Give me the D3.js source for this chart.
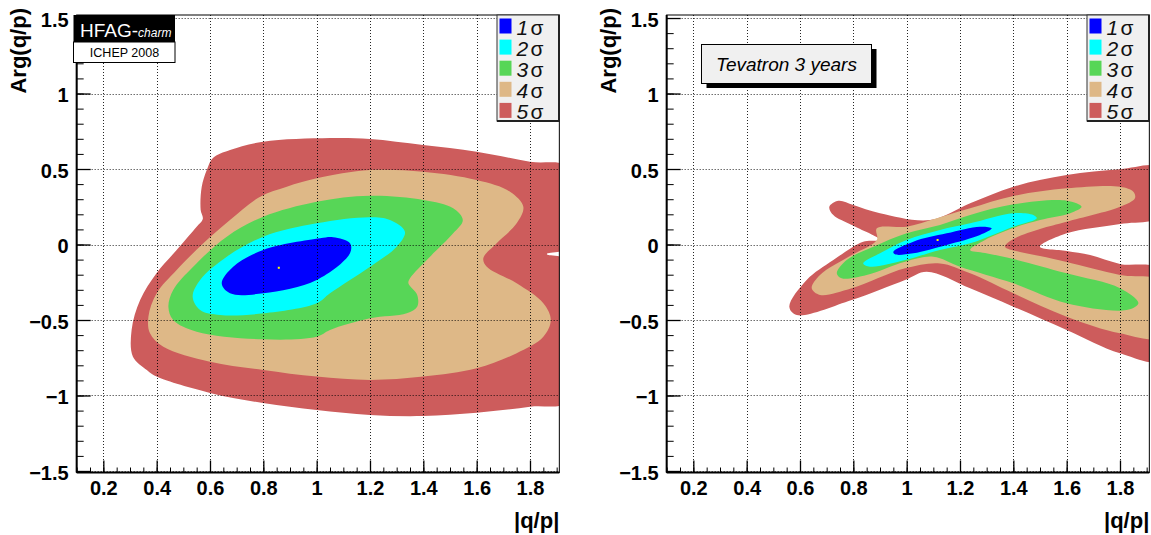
<!DOCTYPE html>
<html><head><meta charset="utf-8">
<script src="https://cdn.jsdelivr.net/npm/d3@7"></script>
<style>body{margin:0;background:#fff}svg{display:block}</style>
</head><body>
<svg id="c" width="1151" height="535"></svg>
<script>
// ---------- data ----------
const sigmaLabels = ["1", "2", "3", "4", "5"];
const sigmaColors = ["#0000ff", "#00ffff", "#57d657", "#deb887", "#cd5c5c"];

const xTickValues = [0.2, 0.4, 0.6, 0.8, 1.0, 1.2, 1.4, 1.6, 1.8];
const xTickLabels = ["0.2", "0.4", "0.6", "0.8", "1", "1.2", "1.4", "1.6", "1.8"];
const yTickValues = [-1.5, -1.0, -0.5, 0, 0.5, 1.0, 1.5];
const yTickLabels = ["\u22121.5", "\u22121", "\u22120.5", "0", "0.5", "1", "1.5"];
const xDomain = [0.1, 1.91];
const yDomain = [-1.51, 1.52];

// HFAG ICHEP 2008 contours (|q/p|, Arg(q/p))
const hfag5 = [[0.675,0.626],[0.611,0.573],[0.588,0.493],[0.569,0.383],[0.565,0.228],[0.573,0.169],[0.550,0.118],[0.475,-0.036],[0.400,-0.189],[0.338,-0.368],[0.306,-0.566],[0.311,-0.743],[0.363,-0.831],[0.400,-0.875],[0.600,-0.983],[0.799,-1.050],[1.000,-1.096],[1.200,-1.129],[1.399,-1.136],[1.600,-1.114],[1.800,-1.074],[1.95,-1.03],[1.95,-0.114],[1.863,-0.063],[1.95,-0.015],[1.95,0.507],[1.800,0.548],[1.600,0.615],[1.399,0.659],[1.200,0.699],[1.050,0.705],[0.799,0.681]];
const hfag4 = [[0.369,-0.478],[0.400,-0.323],[0.475,-0.169],[0.575,0.008],[0.675,0.162],[0.788,0.317],[0.888,0.383],[1.000,0.438],[1.200,0.493],[1.399,0.482],[1.600,0.427],[1.725,0.350],[1.775,0.250],[1.750,0.140],[1.675,0.008],[1.625,-0.091],[1.638,-0.147],[1.750,-0.257],[1.850,-0.389],[1.878,-0.500],[1.850,-0.611],[1.750,-0.720],[1.600,-0.820],[1.400,-0.875],[1.200,-0.897],[1.000,-0.875],[0.800,-0.831],[0.600,-0.776],[0.425,-0.677],[0.375,-0.588]];
const hfag3 = [[0.444,-0.412],[0.462,-0.301],[0.537,-0.147],[0.663,0.052],[0.800,0.184],[1.000,0.283],[1.200,0.323],[1.400,0.295],[1.512,0.240],[1.548,0.162],[1.512,0.074],[1.425,-0.081],[1.350,-0.224],[1.344,-0.257],[1.377,-0.334],[1.377,-0.412],[1.338,-0.456],[1.200,-0.489],[1.050,-0.566],[1.000,-0.611],[0.800,-0.628],[0.550,-0.577],[0.462,-0.500]];
const hfag2 = [[0.535,-0.346],[0.563,-0.235],[0.663,-0.081],[0.800,0.052],[1.000,0.140],[1.200,0.180],[1.275,0.162],[1.331,0.085],[1.300,-0.015],[1.200,-0.147],[1.050,-0.323],[1.000,-0.389],[0.800,-0.456],[0.638,-0.467],[0.563,-0.434]];
const hfag1 = [[0.644,-0.257],[0.687,-0.147],[0.800,-0.036],[1.013,0.041],[1.062,0.048],[1.125,0.008],[1.125,-0.058],[1.000,-0.235],[0.800,-0.323],[0.675,-0.323]];
const hfagBest = [0.858, -0.154];

// Tevatron 3 years projection contours
const tev5 = [[0.710,0.250],[0.744,0.290],[0.800,0.262],[0.900,0.207],[1.088,0.162],[1.238,0.273],[1.400,0.383],[1.600,0.460],[1.800,0.498],[1.95,0.507],[1.95,0.189],[1.800,0.136],[1.600,0.074],[1.500,-0.015],[1.600,-0.043],[1.688,-0.070],[1.800,-0.129],[1.95,-0.169],[1.95,-0.765],[1.800,-0.721],[1.600,-0.566],[1.400,-0.412],[1.238,-0.290],[1.075,-0.180],[0.994,-0.235],[0.794,-0.368],[0.588,-0.467],[0.560,-0.412],[0.625,-0.235],[0.725,-0.103],[0.837,0.019],[0.900,0.030],[0.794,0.129],[0.725,0.195]];
const tev4 = [[0.888,0.107],[1.000,0.118],[1.113,0.174],[1.238,0.240],[1.400,0.321],[1.600,0.372],[1.800,0.383],[1.850,0.350],[1.856,0.306],[1.800,0.250],[1.600,0.151],[1.500,0.103],[1.400,0.036],[1.369,-0.015],[1.425,-0.050],[1.500,-0.076],[1.600,-0.116],[1.800,-0.202],[1.95,-0.246],[1.95,-0.611],[1.800,-0.588],[1.600,-0.478],[1.400,-0.323],[1.238,-0.191],[1.125,-0.125],[0.994,-0.158],[0.794,-0.290],[0.675,-0.334],[0.644,-0.290],[0.675,-0.202],[0.794,-0.070],[0.888,0.030]];
const tev3 = [[0.756,-0.224],[0.738,-0.191],[0.775,-0.103],[0.875,-0.015],[1.000,0.074],[1.125,0.129],[1.238,0.195],[1.400,0.266],[1.600,0.290],[1.656,0.250],[1.613,0.207],[1.500,0.162],[1.400,0.109],[1.294,0.030],[1.238,-0.036],[1.294,-0.056],[1.400,-0.096],[1.600,-0.191],[1.800,-0.290],[1.869,-0.389],[1.825,-0.434],[1.600,-0.389],[1.400,-0.257],[1.200,-0.147],[1.100,-0.081],[0.994,-0.114],[0.850,-0.202]];
const tev2 = [[0.837,-0.125],[0.900,-0.058],[1.000,0.030],[1.125,0.096],[1.238,0.140],[1.400,0.207],[1.475,0.195],[1.488,0.174],[1.400,0.118],[1.238,0.008],[1.125,-0.036],[0.994,-0.103],[0.863,-0.147]];
const tev1 = [[0.956,-0.065],[0.950,-0.048],[1.025,0.019],[1.150,0.074],[1.275,0.118],[1.319,0.107],[1.275,0.063],[1.150,-0.003],[1.025,-0.058]];
const tevBest = [1.116, 0.03];

// ---------- drawing ----------
const svg = d3.select("#c");
const FONT = "'Liberation Sans', Arial, Helvetica, sans-serif";

function panel(offset, id, contours, best) {
  const x = d3.scaleLinear().domain(xDomain).range([50 + 0.1 * 266.667 + offset, 50 + 1.91 * 266.667 + offset]);
  const y = d3.scaleLinear().domain(yDomain).range([472.5, 15]);
  const [x0, x1] = x.range();
  const [yb, yt] = y.range();
  const g = svg.append("g");

  g.append("clipPath").attr("id", "clip" + id)
    .append("rect").attr("x", x0).attr("y", yt).attr("width", x1 - x0).attr("height", yb - yt);

  const line = d3.line().x(d => x(d[0])).y(d => y(d[1])).curve(d3.curveCatmullRomClosed.alpha(0.5));
  const cg = g.append("g").attr("clip-path", `url(#clip${id})`);
  // draw from 5 sigma down to 1 sigma
  for (let i = contours.length - 1; i >= 0; i--) {
    cg.append("path").attr("d", line(contours[i])).attr("fill", sigmaColors[i]).attr("stroke", "none");
  }
  cg.append("rect").attr("x", x(best[0]) - 1).attr("y", y(best[1]) - 1).attr("width", 2).attr("height", 2).attr("fill", "#ffff00");

  // grid
  const grid = g.append("g").attr("stroke", "#000").attr("stroke-width", 1).attr("stroke-dasharray", "1,2").attr("opacity", 0.85);
  xTickValues.forEach(v => grid.append("line").attr("x1", Math.round(x(v)) + 0.5).attr("x2", Math.round(x(v)) + 0.5).attr("y1", yt).attr("y2", yb));
  yTickValues.forEach(v => grid.append("line").attr("x1", x0).attr("x2", x1).attr("y1", Math.round(y(v)) + 0.5).attr("y2", Math.round(y(v)) + 0.5));

  // frame
  g.append("rect").attr("x", x0).attr("y", yt).attr("width", x1 - x0).attr("height", yb - yt)
    .attr("fill", "none").attr("stroke", "#000").attr("stroke-width", 1);
  g.append("line").attr("x1", x0).attr("x2", x1).attr("y1", yb).attr("y2", yb).attr("stroke", "#000").attr("stroke-width", 2);
  g.append("line").attr("x1", x0).attr("x2", x0).attr("y1", yt).attr("y2", yb).attr("stroke", "#000").attr("stroke-width", 2);

  // x ticks (inside, from bottom)
  const xMinor = d3.range(0.1, 1.9101, 0.05);
  const xAxis = d3.axisBottom(x).tickValues(xMinor).tickSize(-5).tickFormat("");
  const xa = g.append("g").attr("transform", `translate(0,${yb})`).call(xAxis);
  xa.select(".domain").remove();
  xa.selectAll("line").attr("stroke", "#000").attr("stroke-width", 1);
  const xAxisMaj = d3.axisBottom(x).tickValues(xTickValues).tickSize(-12).tickPadding(11)
    .tickFormat((d, i) => xTickLabels[i]);
  const xb = g.append("g").attr("transform", `translate(0,${yb})`).call(xAxisMaj);
  xb.select(".domain").remove();
  xb.selectAll("line").attr("stroke", "#000").attr("stroke-width", 1.3);
  xb.selectAll("text").attr("font-family", FONT).attr("font-weight", "bold").attr("font-size", 20)
    .attr("fill", "#000").attr("dy", "0.71em").attr("y", 8);

  // y ticks
  const yMinor = d3.range(-1.5, 1.5001, 0.1);
  const ya = g.append("g").attr("transform", `translate(${x0},0)`)
    .call(d3.axisLeft(y).tickValues(yMinor).tickSize(-7).tickFormat(""));
  ya.select(".domain").remove();
  ya.selectAll("line").attr("stroke", "#000").attr("stroke-width", 1);
  const yb2 = g.append("g").attr("transform", `translate(${x0},0)`)
    .call(d3.axisLeft(y).tickValues(yTickValues).tickSize(-14).tickPadding(10).tickFormat((d, i) => yTickLabels[i]));
  yb2.select(".domain").remove();
  yb2.selectAll("line").attr("stroke", "#000").attr("stroke-width", 1.3);
  yb2.selectAll("text").attr("font-family", FONT).attr("font-weight", "bold").attr("font-size", 20)
    .attr("fill", "#000").attr("x", -8).attr("dy", "0.42em");

  // axis titles
  g.append("text").attr("transform", `translate(${26 + offset},8) rotate(-90)`)
    .attr("text-anchor", "end").attr("font-family", FONT).attr("font-weight", "bold").attr("font-size", 22)
    .attr("fill", "#000").text("Arg(q/p)");
  g.append("text").attr("x", x1).attr("y", 528).attr("text-anchor", "end")
    .attr("font-family", FONT).attr("font-weight", "bold").attr("font-size", 22).attr("fill", "#000").text("|q/p|");

  // legend
  const lx = 497 + offset, ly = 15, lw = 62, lh = 106;
  const lg = g.append("g");
  lg.append("rect").attr("x", lx).attr("y", ly).attr("width", lw).attr("height", lh)
    .attr("fill", "#f0f0f0").attr("stroke", "#333").attr("stroke-width", 1);
  lg.append("line").attr("x1", lx + lw).attr("x2", lx + lw).attr("y1", ly).attr("y2", ly + lh + 1).attr("stroke", "#222").attr("stroke-width", 2);
  lg.append("line").attr("x1", lx).attr("x2", lx + lw).attr("y1", ly + lh).attr("y2", ly + lh).attr("stroke", "#222").attr("stroke-width", 2);
  sigmaLabels.forEach((s, i) => {
    const cy = 26 + i * 21.1;
    lg.append("rect").attr("x", lx + 2.5).attr("y", cy - 7.5).attr("width", 12).attr("height", 15).attr("fill", sigmaColors[i]);
    const t = lg.append("text").attr("y", cy + 8.5).attr("font-family", FONT).attr("font-size", 21).attr("fill", "#111");
    t.append("tspan").attr("x", lx + 19.5).attr("font-style", "italic").text(s);
    t.append("tspan").attr("x", lx + 33.5).text("\u03c3");
  });
  return g;
}

const gl = panel(0, "L", [hfag1, hfag2, hfag3, hfag4, hfag5], hfagBest);
const gr = panel(590, "R", [tev1, tev2, tev3, tev4, tev5], tevBest);

// HFAG label
gl.append("rect").attr("x", 73.5).attr("y", 15).attr("width", 101.5).attr("height", 27).attr("fill", "#000");
const ht = gl.append("text").attr("x", 80).attr("y", 36.5).attr("font-family", FONT).attr("fill", "#fff");
ht.append("tspan").attr("font-size", 19).text("HFAG-");
ht.append("tspan").attr("font-size", 12).attr("font-style", "italic").text("charm");
gl.append("rect").attr("x", 73.5).attr("y", 42).attr("width", 101.5).attr("height", 20.5)
  .attr("fill", "#fff").attr("stroke", "#000").attr("stroke-width", 1);
gl.append("text").attr("x", 124.5).attr("y", 56.7).attr("text-anchor", "middle").attr("font-family", FONT)
  .attr("font-size", 12.5).attr("fill", "#000").text("ICHEP 2008");

// Tevatron label
gr.append("rect").attr("x", 706.5).attr("y", 49).attr("width", 170).attr("height", 39).attr("fill", "#000");
gr.append("rect").attr("x", 701.5).attr("y", 44.5).attr("width", 170).attr("height", 39)
  .attr("fill", "#f0f0f0").attr("stroke", "#000").attr("stroke-width", 1);
gr.append("text").attr("x", 786.5).attr("y", 70.5).attr("text-anchor", "middle").attr("font-family", FONT)
  .attr("font-size", 19).attr("font-style", "italic").attr("fill", "#000").text("Tevatron 3 years");
</script>
</body></html>
